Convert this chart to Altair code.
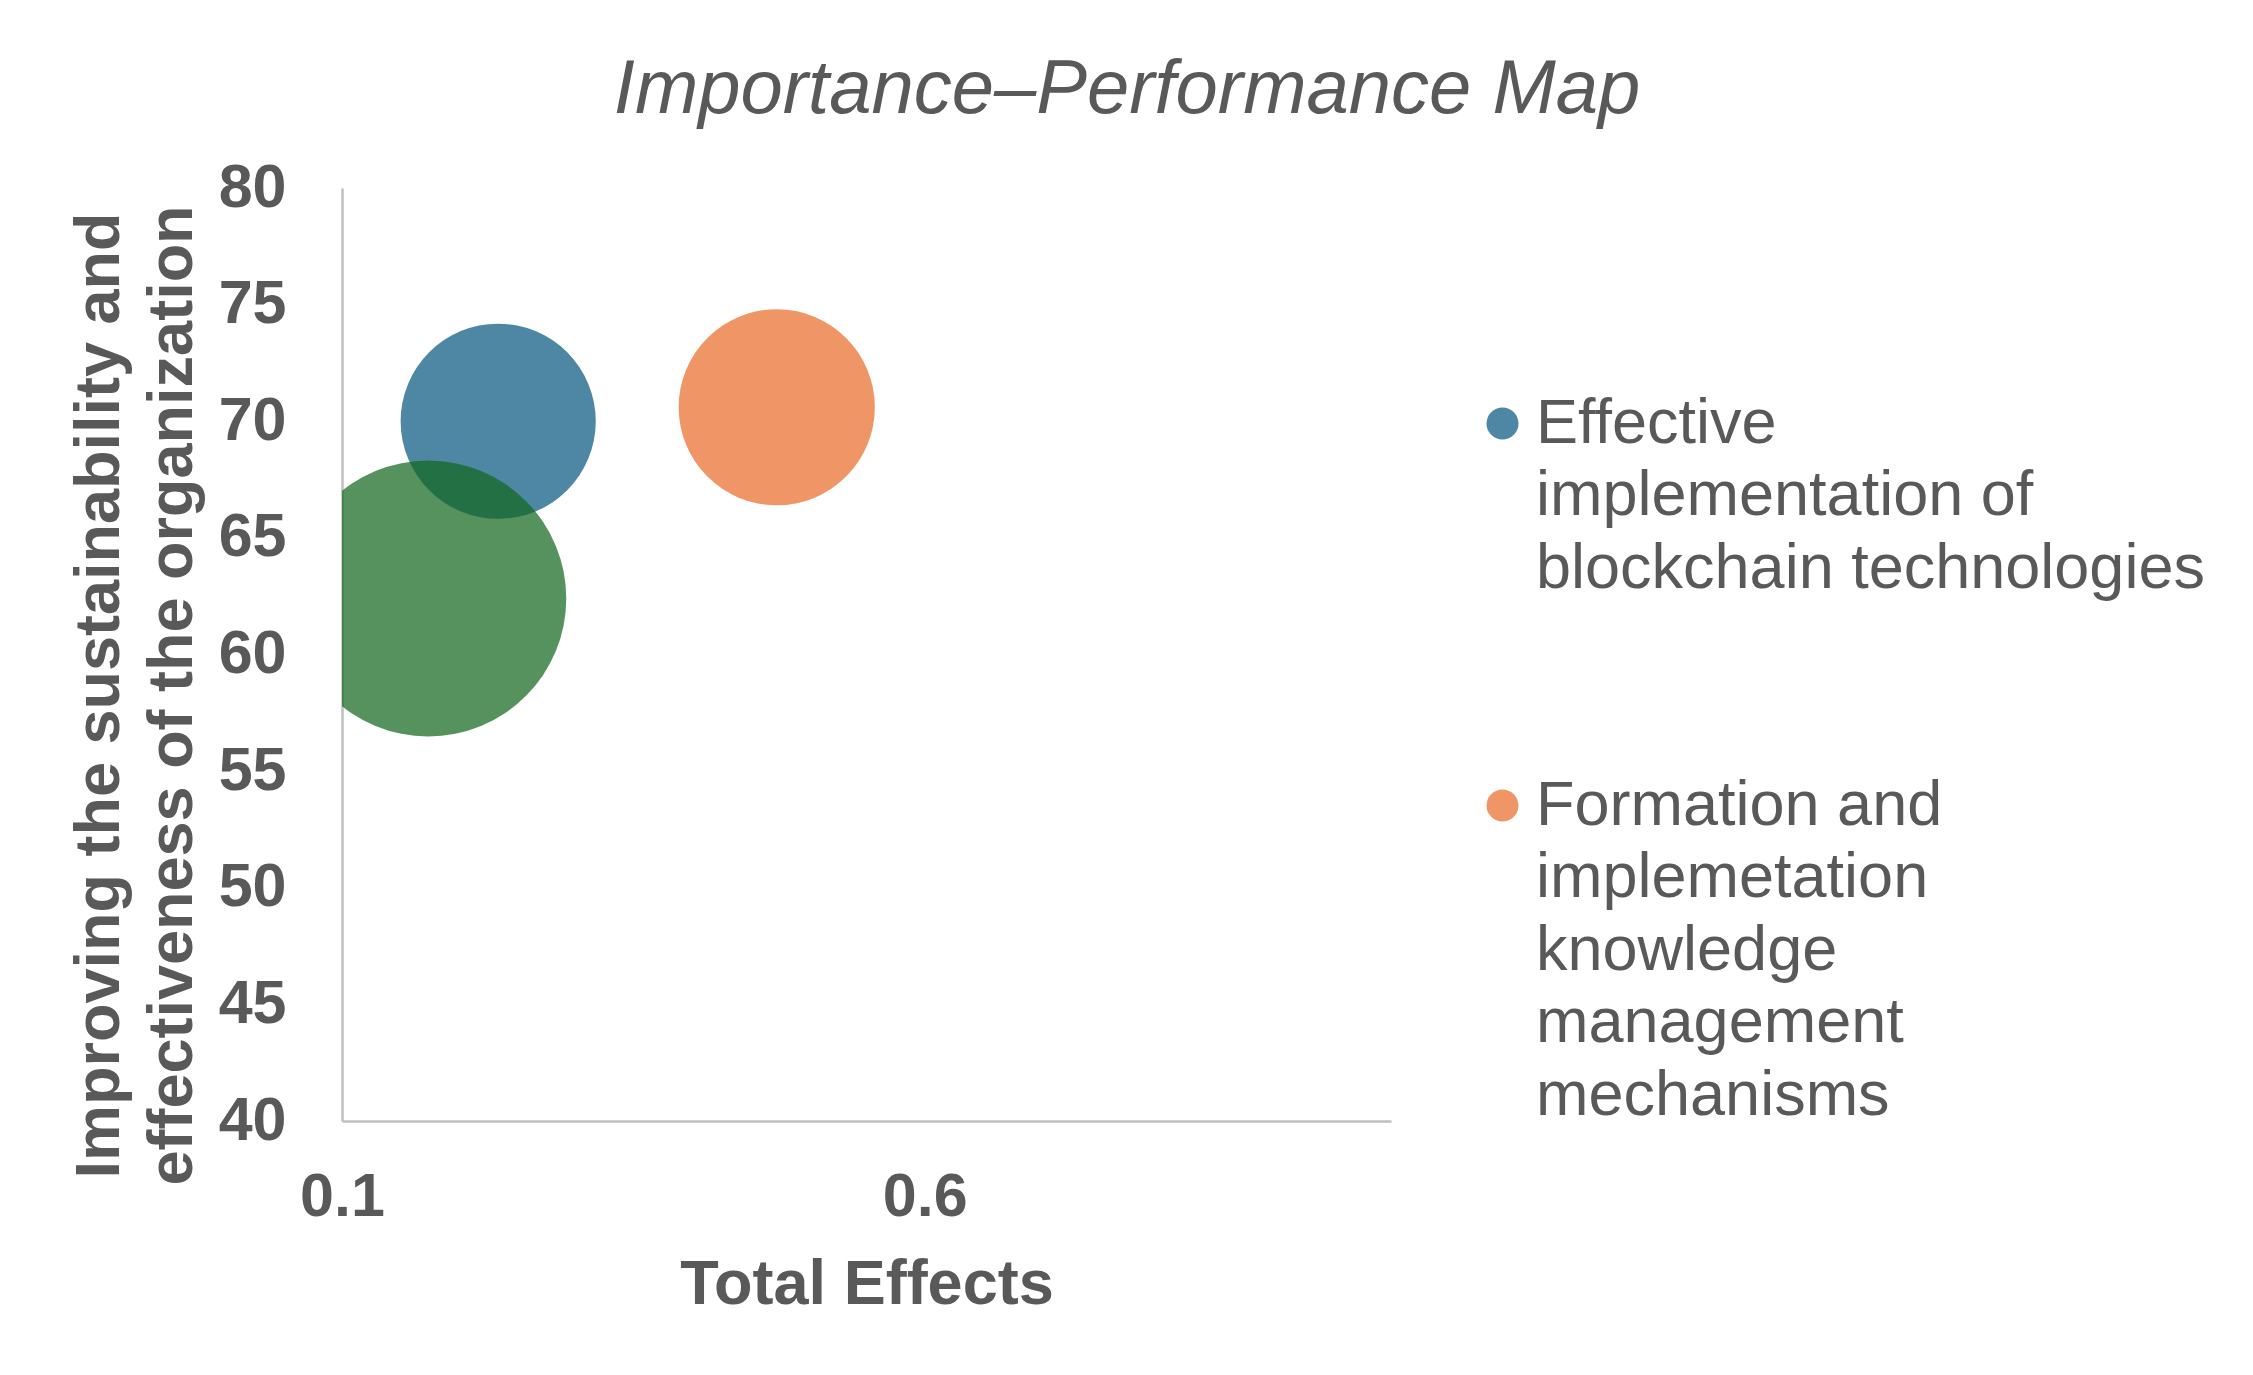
import altair as alt
import pandas as pd

# ---- data ----
constructs = [
    "Effective\nimplementation of\nblockchain technologies",
    "Formation and\nimplemetation\nknowledge\nmanagement\nmechanisms",
    "Third construct",
]
total_effects = [0.234, 0.473, 0.174]
performance = [70.0, 70.6, 62.4]
bubble_size = [48.0, 48.5, 96.0]
draw_order = [1, 2, 3]
colors = ["#0a5981", "#ea6c2b", "#146820"]
x_ticks = [0.1, 0.6]
y_ticks = [40, 45, 50, 55, 60, 65, 70, 75, 80]
legend_items = constructs[:2]

df = pd.DataFrame({
    "construct": constructs,
    "total": total_effects,
    "perf": performance,
    "bubble": bubble_size,
    "z": draw_order,
})

FONT = "Liberation Sans"
TEXT = "#595959"
AXIS = "#bfbfbf"

W, H = 1049, 933

chart = alt.Chart(df).mark_circle(clip=True, opacity=0.72).encode(
    x=alt.X(
        "total:Q",
        scale=alt.Scale(domain=[0.1, 1.0], nice=False, zero=False),
        axis=alt.Axis(
            values=x_ticks, format=".1f", title="Total Effects",
            labelPadding=46, labelFlush=False, labelOverlap=False,
            titleX=W / 2, titleY=182, titleBaseline="alphabetic", titleAlign="center",
        ),
    ),
    y=alt.Y(
        "perf:Q",
        scale=alt.Scale(domain=[40, 80], nice=False, zero=False),
        axis=alt.Axis(
            values=y_ticks, format="d",
            title=["Improving the sustainability and", "effectiveness of the organization"],
            labelPadding=56, labelOverlap=False,
            titleAngle=270, titleX=-224, titleY=507,
            titleBaseline="alphabetic", titleAlign="center", titleLineHeight=73,
        ),
    ),
    size=alt.Size(
        "bubble:Q",
        scale=alt.Scale(domain=[0, 96], range=[0, 76176], zero=True),
        legend=None,
    ),
    color=alt.Color(
        "construct:N",
        scale=alt.Scale(domain=constructs, range=colors),
        legend=alt.Legend(
            values=legend_items, title=None, orient="none",
            legendX=1129, legendY=204, padding=0,
            symbolType="circle", symbolSize=1024, symbolOpacity=0.72,
            symbolStrokeWidth=0,
            labelExpr="split(datum.label, '\\n')",
            labelFont=FONT, labelFontSize=63, labelColor=TEXT,
            labelLimit=1500, labelBaseline="middle",
            labelOffset=2, rowPadding=173,
        ),
    ),
    order=alt.Order("z:Q"),
).properties(
    width=W,
    height=H,
    autosize=alt.AutoSizeParams(type="none"),
    padding={"left": 334, "top": 180, "right": 850, "bottom": 246},
    title=alt.TitleParams(
        "Importance\u2013Performance Map",
        font=FONT, fontSize=76, fontStyle="italic", fontWeight="normal",
        color=TEXT, anchor="middle", dx=260.5, dy=77, baseline="alphabetic", offset=45,
    ),
).configure(
    style={"guide-label": {"lineHeight": 72.5}}
).configure_axis(
    domainColor=AXIS, domainWidth=2.5, ticks=False, tickSize=0, grid=False,
    labelFont=FONT, labelFontSize=61, labelFontWeight="bold", labelColor=TEXT,
    titleFont=FONT, titleFontSize=63, titleFontWeight="bold", titleColor=TEXT,
).configure_view(stroke=None)

chart.save("out.html", embed_options={"renderer": "svg", "actions": False})
